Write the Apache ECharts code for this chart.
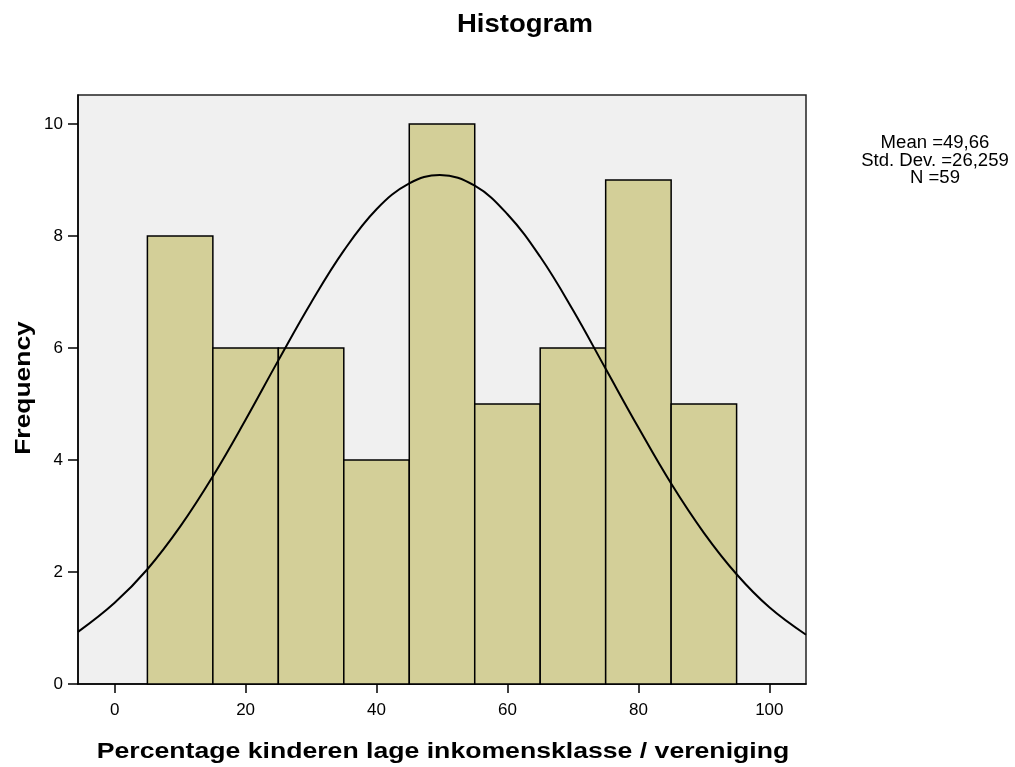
<!DOCTYPE html>
<html>
<head>
<meta charset="utf-8">
<script src="https://cdn.jsdelivr.net/npm/echarts@6/dist/echarts.min.js"></script>
<style>
  html, body { margin: 0; padding: 0; background: #fff; }
  #chart { width: 1015px; height: 767px; }
</style>
</head>
<body>
<div id="chart"></div>
<script>
// histogram bins (lower edge, upper edge, frequency)
var binStart = [5, 15, 25, 35, 45, 55, 65, 75, 85];
var binEnd = [15, 25, 35, 45, 55, 65, 75, 85, 95];
var counts = [8, 6, 6, 4, 10, 5, 6, 9, 5];

// normal curve
var curveX = [-5.6, 0, 5, 10, 15, 20, 25, 30, 35, 40, 45, 49.66, 55, 60, 65, 70, 75, 80, 85, 90, 95, 100, 105.6];
var curveY = [0.93, 1.45, 2.05, 2.81, 3.71, 4.72, 5.78, 6.81, 7.74, 8.48, 8.94, 9.09, 8.90, 8.39, 7.63, 6.68, 5.63, 4.58, 3.58, 2.70, 1.96, 1.37, 0.88];

var xTicks = [0, 20, 40, 60, 80, 100];
var yTicks = [0, 2, 4, 6, 8, 10];

var statLines = ['Mean =49,66', 'Std. Dev. =26,259', 'N =59'];

var chart = echarts.init(document.getElementById('chart'));

var barData = [];
for (var i = 0; i < counts.length; i++) {
    barData.push([binStart[i], binEnd[i], counts[i]]);
}
var curveData = [];
for (var j = 0; j < curveX.length; j++) {
    curveData.push([curveX[j], curveY[j]]);
}

var font = 'Liberation Sans, Arial, sans-serif';

// stats block, top right
var statText = [];
for (var k = 0; k < statLines.length; k++) {
    statText.push({
        type: 'text', x: 935, y: 143.5 + k * 17.5, scaleX: 1.03, z: 10,
        style: {text: statLines[k], font: '18px ' + font, fill: '#000', textAlign: 'center', textVerticalAlign: 'middle'}
    });
}

var option = {
    backgroundColor: '#fff',
    animation: false,
    grid: {
        left: 78, right: 209, top: 95, bottom: 83,
        show: true,
        backgroundColor: '#f0f0f0',
        borderColor: '#222',
        borderWidth: 1.5
    },
    xAxis: {
        type: 'value',
        min: -5.6,
        max: 105.6,
        axisLine: {show: true, onZero: false, lineStyle: {color: '#000', width: 1.5}},
        axisTick: {show: true, length: 9, customValues: xTicks, lineStyle: {color: '#000', width: 1.5}},
        axisLabel: {customValues: xTicks, color: '#000', fontSize: 17, fontFamily: font, margin: 18},
        splitLine: {show: false}
    },
    yAxis: {
        type: 'value',
        min: 0,
        max: 10.52,
        axisLine: {show: true, onZero: false, lineStyle: {color: '#000', width: 1.5}},
        axisTick: {show: true, length: 10, customValues: yTicks, lineStyle: {color: '#000', width: 1.5}},
        axisLabel: {customValues: yTicks, color: '#000', fontSize: 17, fontFamily: font, margin: 15},
        splitLine: {show: false}
    },
    graphic: [
        {
            type: 'text', x: 525, y: 25, scaleX: 1.1, z: 10,
            style: {text: 'Histogram', font: 'bold 25px ' + font, fill: '#000', textAlign: 'center', textVerticalAlign: 'middle'}
        },
        {
            type: 'text', x: 443, y: 752, scaleX: 1.21, z: 10,
            style: {text: 'Percentage kinderen lage inkomensklasse / vereniging', font: 'bold 22px ' + font, fill: '#000', textAlign: 'center', textVerticalAlign: 'middle'}
        },
        {
            type: 'text', x: 24, y: 388, rotation: Math.PI / 2, scaleX: 1.2, z: 10,
            style: {text: 'Frequency', font: 'bold 22px ' + font, fill: '#000', textAlign: 'center', textVerticalAlign: 'middle'}
        }
    ].concat(statText),
    series: [
        {
            type: 'custom',
            data: barData,
            z: 2,
            renderItem: function (params, api) {
                var p0 = api.coord([api.value(0), api.value(2)]);
                var p1 = api.coord([api.value(1), 0]);
                return {
                    type: 'rect',
                    shape: {x: p0[0], y: p0[1], width: p1[0] - p0[0], height: p1[1] - p0[1]},
                    style: {fill: '#d3cf98', stroke: '#000', lineWidth: 1.5}
                };
            }
        },
        {
            type: 'line',
            data: curveData,
            smooth: 0.4,
            symbol: 'none',
            clip: true,
            z: 5,
            lineStyle: {color: '#000', width: 2}
        }
    ]
};

chart.setOption(option);
</script>
</body>
</html>
